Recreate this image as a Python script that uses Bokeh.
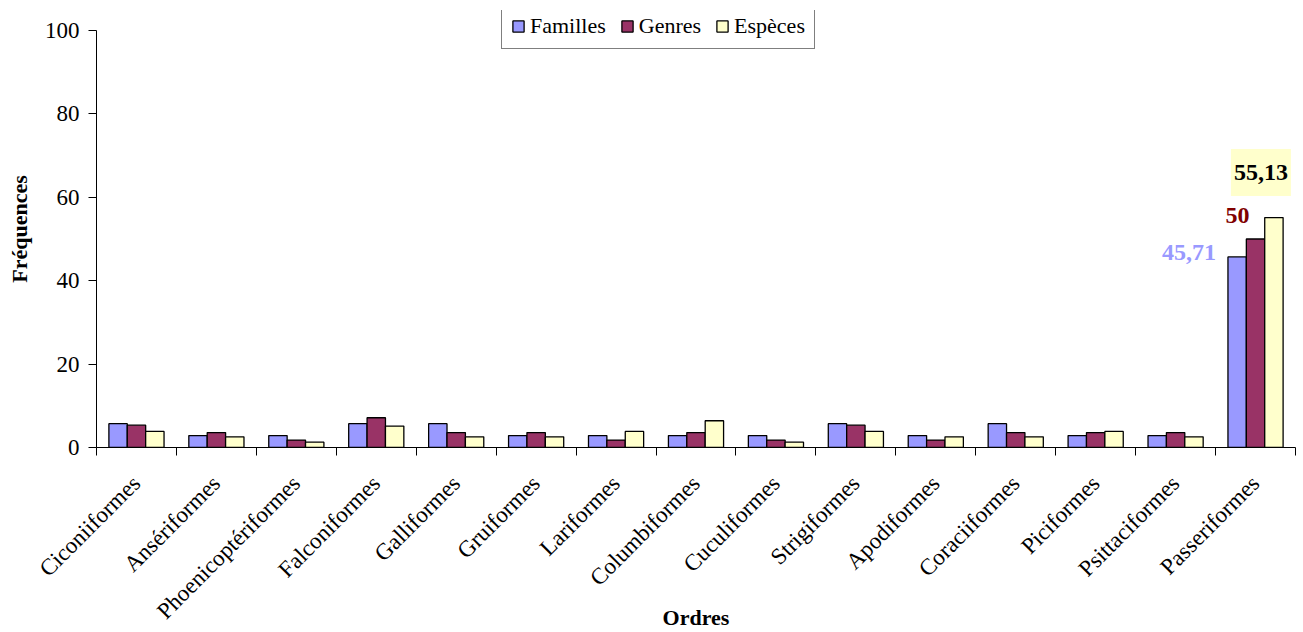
import numpy as np
from bokeh.plotting import figure
from bokeh.models import (ColumnDataSource, Range1d, FixedTicker, Legend, LegendItem,
                          Label)
from bokeh.transform import dodge
from bokeh.embed import file_html
from bokeh.resources import INLINE

# Relative frequencies (%) of families, genera and species per bird order
ordres = ["Ciconiiformes", "Ansériformes", "Phoenicoptériformes", "Falconiformes",
          "Galliformes", "Gruiformes", "Lariformes", "Columbiformes", "Cuculiformes",
          "Strigiformes", "Apodiformes", "Coraciiformes", "Piciformes",
          "Psittaciformes", "Passeriformes"]
familles = [5.71, 2.86, 2.86, 5.71, 5.71, 2.86, 2.86, 2.86, 2.86, 5.71, 2.86, 5.71,
            2.86, 2.86, 45.71]
genres = [5.36, 3.57, 1.79, 7.14, 3.57, 3.57, 1.79, 3.57, 1.79, 5.36, 1.79, 3.57,
          3.57, 3.57, 50.0]
especes = [3.85, 2.56, 1.28, 5.13, 2.56, 2.56, 3.85, 6.41, 1.28, 3.85, 2.56, 2.56,
           3.85, 2.56, 55.13]
y_ticks = [0, 20, 40, 60, 80, 100]

FONT = "Liberation Serif"
BAR_W = 0.23

# frame runs from y=10 to y=447 px; the value axis itself stops at 100
FRAME_TOP, FRAME_BOTTOM, AXIS_TOP = 10, 447, 30
y_end = 100 * (FRAME_BOTTOM - FRAME_TOP) / (FRAME_BOTTOM - AXIS_TOP)

centres = list(np.arange(len(ordres)) + 0.5)
source = ColumnDataSource(dict(x=centres, ordre=ordres, familles=familles,
                               genres=genres, especes=especes))

p = figure(width=1303, height=632, output_backend="svg", toolbar_location=None,
           x_range=Range1d(0, len(ordres)), y_range=Range1d(0, y_end),
           min_border_left=96, min_border_right=8, min_border_top=FRAME_TOP,
           min_border_bottom=632 - FRAME_BOTTOM)
p.outline_line_color = None
p.grid.visible = False
p.background_fill_color = "white"

series = [("familles", "Familles", "#9999FF", -BAR_W),
          ("genres", "Genres", "#993366", 0.0),
          ("especes", "Espèces", "#FFFFCC", BAR_W)]
items = []
for field, name, color, off in series:
    r = p.vbar(x=dodge("x", off, range=p.x_range), top=field, width=BAR_W,
               source=source, fill_color=color, line_color="black", line_width=1.3)
    items.append(LegendItem(label=name, renderers=[r]))

# x axis: labels at category centres, ticks at category boundaries
xa = p.xaxis[0]
xa.ticker = FixedTicker(ticks=centres, minor_ticks=list(range(len(ordres) + 1)))
xa.major_label_overrides = {c: o for c, o in zip(centres, ordres)}
xa.major_tick_line_color = None
xa.minor_tick_line_color = "black"
xa.minor_tick_in = 0
xa.minor_tick_out = 8
xa.major_label_orientation = np.pi / 4
xa.major_label_text_font = FONT
xa.major_label_text_font_size = "23px"
xa.major_label_text_color = "black"
xa.major_label_standoff = 24
xa.axis_line_color = "black"
xa.axis_label = "Ordres"
xa.axis_label_text_font = FONT
xa.axis_label_text_font_style = "bold"
xa.axis_label_text_font_size = "22px"
xa.axis_label_text_color = "black"
xa.axis_label_standoff = -31

ya = p.yaxis[0]
ya.bounds = (0, 100)
ya.ticker = FixedTicker(ticks=y_ticks)
ya.minor_tick_line_color = None
ya.major_tick_in = 0
ya.major_tick_out = 8
ya.major_label_text_font = FONT
ya.major_label_text_font_size = "23px"
ya.major_label_text_color = "black"
ya.major_label_standoff = 9
ya.axis_line_color = "black"
ya.axis_label = "Fréquences"
ya.axis_label_text_font = FONT
ya.axis_label_text_font_style = "bold"
ya.axis_label_text_font_size = "22px"
ya.axis_label_text_color = "black"
ya.axis_label_standoff = 10

legend = Legend(items=items, orientation="horizontal", location=(405, 398),
                label_text_font=FONT, label_text_font_size="22px",
                label_text_color="black",
                glyph_width=14, glyph_height=14, label_standoff=5, spacing=14,
                padding=9, margin=0, border_line_color="black",
                border_line_width=1, background_fill_alpha=1.0)
p.add_layout(legend)

# value labels on the Passeriformes group
last = len(ordres) - 1
p.add_layout(Label(x=centres[last] - BAR_W * 1.5, y=familles[last], x_offset=-12,
                   y_offset=4, text=f"{familles[last]:.2f}".replace(".", ","),
                   text_font=FONT, text_font_style="bold", text_font_size="24px",
                   text_color="#9999FF", text_align="right", text_baseline="middle"))
p.add_layout(Label(x=centres[last], y=genres[last], x_offset=-18, y_offset=16,
                   text=f"{genres[last]:g}", text_font=FONT, text_font_style="bold",
                   text_font_size="24px", text_color="#800000", text_align="center",
                   text_baseline="bottom"))
p.add_layout(Label(x=centres[last] + BAR_W, y=especes[last], x_offset=-13,
                   y_offset=45, text=f"{especes[last]:.2f}".replace(".", ","),
                   text_font=FONT, text_font_style="bold", text_font_size="24px",
                   text_color="black", text_align="center", text_baseline="middle",
                   background_fill_color="#FFFFCC", padding=(3, 16)))

open("out.html", "w").write(file_html(p, INLINE))
